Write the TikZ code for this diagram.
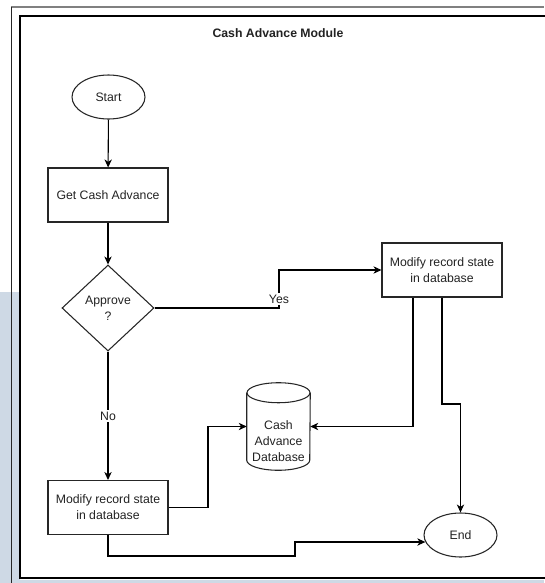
\documentclass[tikz,border=0pt]{standalone}
\usepackage{fontspec}
\setmainfont{Liberation Sans}
\usetikzlibrary{shapes.geometric,arrows.meta}
\definecolor{bgblue}{RGB}{206,217,229}
\definecolor{txt}{RGB}{34,34,34}
\begin{document}
\begin{tikzpicture}[x=0.75pt,y=-0.75pt,
  font=\fontsize{9.2pt}{12pt}\selectfont,
  every node/.style={text=txt},
  proc/.style={draw=black!85, line width=0.8pt, rectangle, minimum width=90pt, minimum height=40.5pt, align=center, inner sep=0pt},
  term/.style={draw=black!85, line width=0.8pt, ellipse, minimum width=54.75pt, minimum height=33pt, inner sep=0pt},
  dec/.style={draw=black!85, line width=0.8pt, diamond, shape aspect=1.07, minimum width=69pt, minimum height=64.5pt, align=center, inner sep=0pt},
  dbbox/.style={rectangle, minimum width=47.25pt, minimum height=65.25pt, inner sep=0pt},
  lbl/.style={fill=white, inner sep=1pt},
  arr/.style={line width=0.8pt, -{Stealth[length=6pt, width=5.5pt, inset=1.8pt]}}
]
\useasboundingbox (0,0) rectangle (544,583);
% background and frames
\fill[bgblue] (0,292) rectangle (20,583);
\fill[bgblue] (0,580) rectangle (544,583);
\draw[gray, line width=1.5pt] (11,7) -- (544,7);
\draw[black!85, line width=0.8pt] (11.5,6.5) -- (11.5,583);
\draw[line width=1pt] (550,16) -- (20,16) -- (20,578) -- (550,578);

\node[font=\fontsize{9.2pt}{12pt}\selectfont\bfseries] (title) at (278,33) {Cash Advance Module};

\node[term] (start) at (108.5,97) {Start};
\node[proc] (get) at (108,195) {Get Cash Advance};
\node[dec] (appr) at (108,308) {Approve\\?};
\node[proc] (modR) at (442,270) {Modify record state\\in database};
\node[proc] (modL) at (108,507.5) {Modify record state\\in database};
\node[term] (end) at (460.5,535) {End};
\node[dbbox] (db) at (278.5,426.5) {};
\draw[black!85, line width=0.8pt] ([yshift=-7.5pt]db.north) ellipse [x radius=23.625pt, y radius=7.5pt];
\draw[black!85, line width=0.8pt] ([yshift=-7.5pt]db.north west) -- ([yshift=7.5pt]db.south west)
  arc[start angle=180, end angle=360, x radius=23.625pt, y radius=7.5pt]
  -- ([yshift=-7.5pt]db.north east);
\node[align=center] (dbtext) at ([yshift=-10.9pt]db.center) {Cash\\Advance\\Database};

\draw[arr] (start) -- (get);
\draw[arr] (get) -- (appr);
\draw[arr] (appr.east) -- (279,308) |- (modR.west);
\node[lbl] (yes) at (279,299) {Yes};
\draw[arr] (appr.south) -- (modL.north);
\node[lbl] (no) at (108,416) {No};
\draw[arr] ([xshift=-21.75pt]modR.south) |- (db.east);
\draw[arr] (modR.south) -- (442,404) -| (end.north);
\draw[arr] (modL.east) -- (208,507.5) |- (db.west);
\draw[arr] (modL.south) -- (108,556) -| (295,542) -- ([yshift=-5.25pt,xshift=1.4pt]end.west);
\end{tikzpicture}
\end{document}
